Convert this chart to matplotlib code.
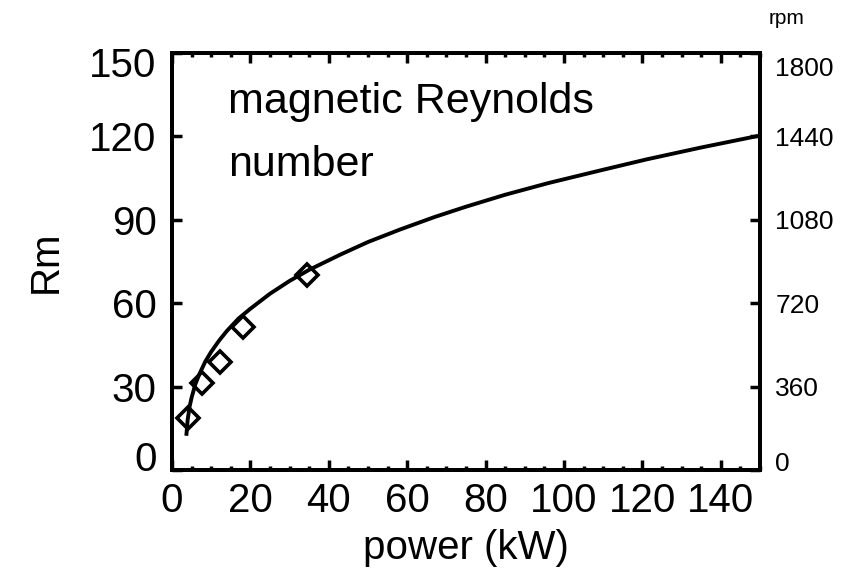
import matplotlib
matplotlib.use('Agg')
import matplotlib.pyplot as plt
from matplotlib.ticker import MultipleLocator
from matplotlib.transforms import ScaledTranslation

plt.rcParams['font.family'] = ['Liberation Sans', 'DejaVu Sans']

# fitted curve
power_curve = [3.7, 4.0, 4.5, 5.0, 6.0, 7.0, 8.5, 10, 12, 14, 17, 20, 25, 30, 35,
               43, 50, 58, 67, 75, 85, 96, 110, 121, 135, 150]
rm_curve = [13, 18, 22.8, 26, 31, 34.5, 39, 42.5, 46.5, 50, 54.5, 58, 63.4, 68, 72,
            77.5, 82, 86.4, 91, 94.7, 99, 103.2, 108, 111.7, 116, 120.3]

# measured points (diamonds)
power_pts = [4.2, 7.6, 12.2, 18.2, 34.4]
rm_pts = [18.6, 31.2, 39.0, 51.5, 70.1]

power_ticks = [0, 20, 40, 60, 80, 100, 120, 140]
rm_ticks = [0, 30, 60, 90, 120, 150]
rpm_ticks = [0, 360, 720, 1080, 1440, 1800]

fig = plt.figure(figsize=(8.56, 5.79), dpi=100)
ax = fig.add_axes([0.2009, 0.1883, 0.6869, 0.7202])

ax.plot(power_curve, rm_curve, color='black', lw=2.8)
ax.plot(power_pts, rm_pts, 'D', color='black', mfc='none', ms=11.5, mew=2.6)

ax.set_xlim(0, 150)
ax.set_ylim(0, 150)
ax.set_xticks(power_ticks)
ax.set_yticks(rm_ticks)
ax.xaxis.set_minor_locator(MultipleLocator(5))

ax.tick_params(axis='x', which='both', direction='in', top=True, labelsize=29, pad=9)
ax.tick_params(axis='x', which='major', length=7, width=2.5)
ax.tick_params(axis='x', which='minor', length=3, width=2.5)
ax.tick_params(axis='y', direction='in', length=7, width=2.5, labelsize=29, pad=11)

ax.set_xlabel('power (kW)', fontsize=29, labelpad=6)
ax.set_ylabel('Rm', fontsize=29, labelpad=18)

ax.text(0.095, 0.93, 'magnetic Reynolds\nnumber', transform=ax.transAxes,
        fontsize=31, va='top', ha='left', linespacing=1.75)

# right axis in rpm
ax2 = ax.twinx()
ax2.set_ylim(0, 1800)
ax2.set_yticks(rpm_ticks)
ax2.tick_params(axis='y', direction='in', length=7, width=2.5, labelsize=19, pad=11)

for a in (ax, ax2):
    for s in a.spines.values():
        s.set_linewidth(2.8)

# end labels are pulled inside the axis range
fig.canvas.draw()
ylab = ax.get_yticklabels()
ylab[0].set_transform(ylab[0].get_transform() + ScaledTranslation(0, 0.14, fig.dpi_scale_trans))
ylab[-1].set_transform(ylab[-1].get_transform() + ScaledTranslation(0, -0.09, fig.dpi_scale_trans))
rlab = ax2.get_yticklabels()
rlab[0].set_transform(rlab[0].get_transform() + ScaledTranslation(0, 0.08, fig.dpi_scale_trans))
rlab[-1].set_transform(rlab[-1].get_transform() + ScaledTranslation(0, -0.14, fig.dpi_scale_trans))

fig.text(787 / 856, 1 - 18 / 579, 'rpm', fontsize=15, ha='center', va='center')

fig.savefig('out.png', dpi=100)
